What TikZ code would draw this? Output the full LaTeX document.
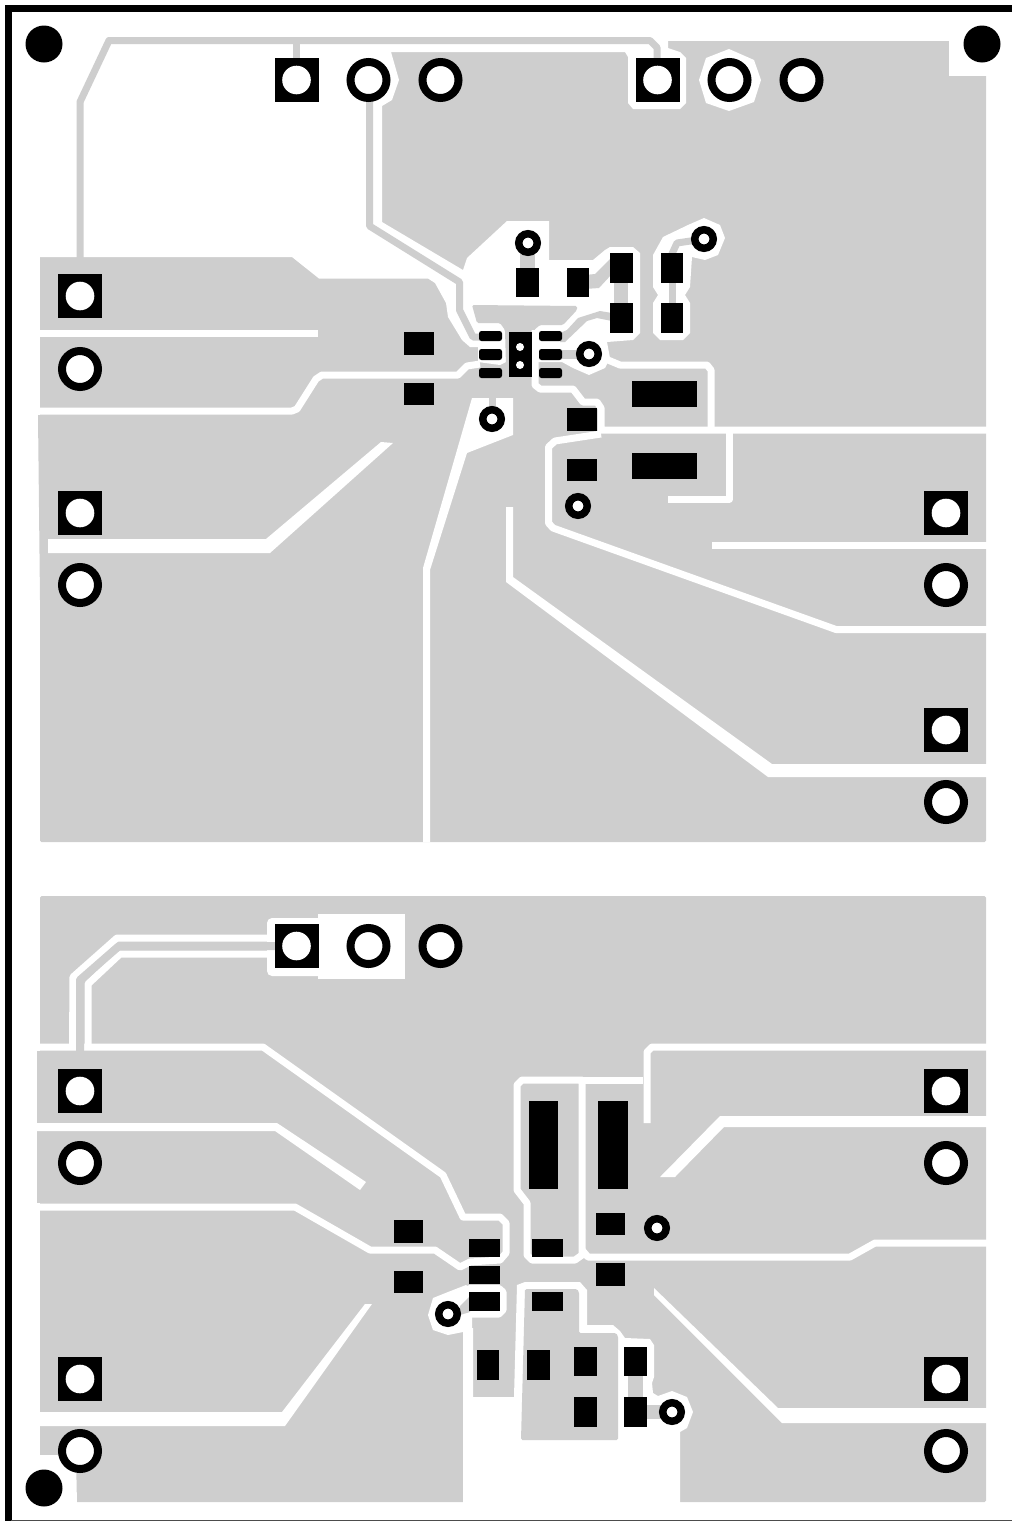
\documentclass[tikz,border=0pt]{standalone}
\usepackage{tikz}
\usepackage{xcolor}
\definecolor{coppercolor}{RGB}{206, 206, 206}
\tikzstyle{pour} = [
	fill=coppercolor,
	rounded corners=1.5pt
]
\tikzstyle{clear} = [
	fill=white
]
\tikzstyle{gap} = [
	draw=white,
	line width=7pt,
	line join=round
]
\tikzstyle{trace} = [
	draw=coppercolor,
	line width=7pt,
	line join=round
]
\tikzstyle{smd} = [
	fill=black
]
\tikzstyle{thsq} = [
	fill=black,
	inner sep=0pt,
	minimum size=44pt,
	path picture={\fill[white] (path picture bounding box.center) circle (14.3pt);}
]
\tikzstyle{thring} = [
	circle,
	draw=black,
	fill=white,
	line width=8pt,
	inner sep=0pt,
	minimum size=36pt
]
\tikzstyle{via} = [
	circle,
	draw=black,
	fill=white,
	line width=7.5pt,
	inner sep=0pt,
	minimum size=18.5pt
]
\tikzstyle{drill} = [
	circle,
	fill=black,
	inner sep=0pt,
	minimum size=37pt
]

\begin{document}
\begin{tikzpicture}[x=1pt,y=-1pt]
	\useasboundingbox (0,0) rectangle (1012,1521);
	
	%
	% Board edge
	\fill[black] (4.5,4.5) rectangle (1012,11.5);
	\fill[black] (4.5,4.5) rectangle (11.5,1521);
	\fill[black!70] (11,1520) rectangle (1012,1521);
	
	%
	% Upper circuit, copper
	\fill[pour] (40,41) rectangle (986,842);
	\fill[coppercolor] (38,415) -- (41,415) -- (41,600) -- (40,600) -- cycle;
	\fill[clear] (949,38) rectangle (990,76);
	\fill[clear] (38,38) -- (668,38) -- (668,48) -- (680,52) -- (686,58) -- (686,103) -- (680,109) -- (633,109) -- (628,103) -- (628,57) -- (625,52) -- (391,52) -- (399,80) -- (392,100) -- (382,106) -- (382,222) -- (463,270) -- (467,258) -- (507,221) -- (549,221) -- (549,260) -- (593,260) -- (605,250) -- (610,247) -- (633,247) -- (640,253) -- (640,333) -- (633,340) -- (607,342) -- (610,358) -- (605,368) -- (589,375) -- (573,368) -- (562,362) -- (506,362) -- (500,365) -- (478,362) -- (478,347) -- (470,347) -- (462,340) -- (448,317) -- (446,303) -- (435,283) -- (428,278.5) -- (319,278.5) -- (292,257) -- (38,257) -- cycle;
	\fill[pour] (472,305) -- (577,306) -- (577,310) -- (563,325) -- (540,325) -- (534,330) -- (534,366) -- (506,366) -- (505,330) -- (500,323) -- (477,323) -- cycle;
	\fill[clear] (729,49) -- (754,60) -- (761,80) -- (754,102) -- (729,111) -- (706,103) -- (699,80) -- (706,58) -- cycle;
	\fill[clear] (704,218) -- (720,225) -- (725,238) -- (718,255) -- (705,260) -- (692,257) -- (690,287) -- (685,295) -- (690,303) -- (690,333) -- (683,340) -- (660,340) -- (653,333) -- (653,303) -- (658,295) -- (653,287) -- (653,255) -- (663,237) -- (688,225) -- cycle;
	\fill[clear] (472,398) -- (513,398) -- (513,435) -- (467,453) -- (430,570) -- (430,842) -- (423,842) -- (423,568) -- cycle;
	\fill[clear] (48,539) -- (266,539) -- (381,442) -- (393,443) -- (270,553) -- (48,553) -- cycle;
	\fill[clear] (506,507) -- (513,507) -- (513,577) -- (772,764) -- (990,764) -- (990,777) -- (768,777) -- (506,582) -- cycle;
	\draw[gap] (36,333) -- (318,333);
	\draw[gap] (36,411) -- (292,411) -- (297,409) -- (316,379) -- (322,375) -- (458,375) -- (467,366) -- (480,364);
	\draw[gap] (608,360) -- (620,365) -- (707,365) -- (711,370) -- (711,430);
	\draw[gap] (535,330) -- (535,385) -- (540,389) -- (573,389) -- (583,402) -- (597,402) -- (601,408) -- (601,430) -- (990,430);
	\draw[gap] (601,434) -- (555,441) -- (548.5,447) -- (548.5,523) -- (553,528) -- (836,629.5) -- (990,629.5);
	\draw[gap] (729.5,430) -- (729.5,499) -- (668,499);
	\draw[gap] (712,545.5) -- (990,545.5);
	
	%
	% Upper circuit, traces
	\draw[trace] (80,262) -- (80,102) -- (109,40.5) -- (650,40.5) -- (657,47.5) -- (657,60);
	\draw[trace] (296,44) -- (296,60);
	\draw[trace] (369.5,100) -- (369.5,226) -- (459.5,282) -- (459.5,310) -- (473,337) -- (482,337);
	\draw[trace] (492,398) -- (492,412);
	\draw[trace, line width=15pt] (527.5,243) -- (527.5,270);
	\draw[trace, line width=14pt] (621,280) -- (621,306);
	\draw[trace] (672,280) -- (672,306);
	\draw[trace] (704,239) -- (677,243) -- (671,256);
	\draw[trace, line width=9pt] (562,354.5) -- (585,354.5);
	\fill[coppercolor] (585,275) -- (595,274) -- (611,258) -- (611,275) -- (599,288) -- (585,289) -- cycle;
	\fill[coppercolor] (560,333) -- (567,330) -- (578,318) -- (600,311) -- (612,313) -- (612,321) -- (597,318) -- (587,321) -- (565,342) -- (560,342) -- cycle;
	
	%
	% Upper circuit, parts
	\fill[smd] (404,332) rectangle (434,355);
	\fill[smd] (404,383) rectangle (434,405);
	\fill[smd] (516,268) rectangle (539,297);
	\fill[smd] (567,268) rectangle (589,297);
	\fill[smd] (610,253) rectangle (633,283);
	\fill[smd] (661,253) rectangle (683,283);
	\fill[smd] (610,303) rectangle (633,333);
	\fill[smd] (661,303) rectangle (683,333);
	\fill[smd] (567,408) rectangle (597,431);
	\fill[smd] (567,459) rectangle (597,481);
	\fill[smd] (632,381) rectangle (697,407);
	\fill[smd] (632,453) rectangle (697,479);
	\fill[smd, rounded corners=2.5pt] (479,331) rectangle (502,341);
	\fill[smd, rounded corners=2.5pt] (479,349) rectangle (502,360);
	\fill[smd, rounded corners=2.5pt] (479,368) rectangle (502,378);
	\fill[smd, rounded corners=2.5pt] (539,331) rectangle (562,341);
	\fill[smd, rounded corners=2.5pt] (539,349) rectangle (562,360);
	\fill[smd, rounded corners=2.5pt] (539,368) rectangle (562,378);
	\fill[smd] (509,332) rectangle (532,377);
	\fill[white] (520,347) circle (4pt);
	\fill[white] (520,365) circle (4pt);
	\node[via] (v1) at (528,243) {};
	\node[via] (v2) at (589,354) {};
	\node[via] (v3) at (492,419) {};
	\node[via] (v4) at (578,506) {};
	\node[via] (v5) at (704,239) {};
	\node[thsq] (j1a) at (296.5,80) {};
	\node[thring] (j1b) at (368.5,80) {};
	\node[thring] (j1c) at (440.5,80) {};
	\node[thsq] (j2a) at (657.5,80) {};
	\node[thring] (j2b) at (729.5,80) {};
	\node[thring] (j2c) at (801.5,80) {};
	\node[thsq] (j3a) at (80,296) {};
	\node[thring] (j3b) at (80,369) {};
	\node[thsq] (j4a) at (80,513) {};
	\node[thring] (j4b) at (80,585) {};
	\node[thsq] (j5a) at (946,513) {};
	\node[thring] (j5b) at (946,585) {};
	\node[thsq] (j6a) at (946,730) {};
	\node[thring] (j6b) at (946,802) {};
	
	%
	% Lower circuit, copper
	\fill[pour] (40,896) rectangle (986,1502);
	\fill[coppercolor] (37,1051) rectangle (41,1203);
	\fill[clear, rounded corners=5pt] (267,918) rectangle (330,976);
	\fill[clear] (318,914) rectangle (405,979);
	\draw[gap] (270,938) -- (117,938) -- (73,977) -- (72.5,1047);
	\draw[gap] (270,954) -- (120,954) -- (88,984) -- (88,1047);
	\draw[gap] (36,1207) -- (295,1207) -- (370,1250) -- (435,1250) -- (460,1267) -- (470,1262) -- (500,1260) -- (506,1253) -- (506,1223) -- (500,1217) -- (463,1217) -- (443,1175) -- (263,1047) -- (36,1047);
	\fill[clear] (36,1123) -- (277,1123) -- (366,1182) -- (360,1190) -- (275,1131) -- (36,1131) -- cycle;
	\draw[gap] (582,1080) -- (522,1080) -- (517,1085) -- (517,1190) -- (527,1203) -- (527,1255) -- (532,1260) -- (575,1260) -- (582,1255) -- (582,1085) -- cycle;
	\draw[gap] (582,1080) -- (643,1080);
	\draw[gap] (647,1123) -- (647,1052) -- (652,1047) -- (990,1047);
	\draw[gap] (582,1250) -- (588,1257) -- (850,1257) -- (875,1243) -- (990,1243);
	\fill[clear] (990,1116) -- (720,1116) -- (660,1177) -- (675,1177) -- (724,1127) -- (990,1127) -- cycle;
	\fill[clear] (654,1288) -- (778,1408) -- (990,1408) -- (990,1423) -- (782,1423) -- (654,1295) -- cycle;
	\fill[clear] (36,1412) -- (282,1412) -- (365,1304) -- (372,1304) -- (285,1426) -- (36,1426) -- cycle;
	\fill[clear] (36,1455) -- (76,1455) -- (77,1505) -- (36,1505) -- cycle;
	\fill[clear] (463,1328) -- (473,1328) -- (473,1397) -- (514,1397) -- (517,1285) -- (525,1282) -- (580,1282) -- (587,1290) -- (587,1325) -- (613,1325) -- (620,1331) -- (625,1338) -- (650,1339) -- (654,1345) -- (654,1377) -- (652,1383) -- (653,1393) -- (658,1396) -- (672,1391) -- (687,1397) -- (693,1412) -- (687,1428) -- (680,1432) -- (680,1505) -- (463,1505) -- cycle;
	\fill[pour] (525,1289) -- (577,1289) -- (579,1292) -- (579,1333) -- (616,1333) -- (618,1336) -- (618,1440) -- (521,1440) -- cycle;
	\draw[gap] (462,1292) -- (470,1288.5) -- (499,1288.5) -- (503,1292) -- (503,1310) -- (499,1314) -- (470,1314) -- (463,1320);
	\fill[clear] (428,1315) -- (433,1298) -- (448,1292) -- (466,1285) -- (472,1290) -- (472,1328) -- (463,1332) -- (448,1335) -- (433,1330) -- cycle;
	
	%
	% Lower circuit, traces
	\draw[trace, line width=8pt] (80,1056) -- (80,980) -- (119,946) -- (280,946);
	\draw[trace, line width=15pt] (635.5,1372) -- (635.5,1402);
	\draw[trace, line width=14pt] (640,1412) -- (665,1412);
	\fill[coppercolor] (460,1306) -- (470,1296) -- (470,1312) -- (460,1315) -- cycle;
	
	%
	% Lower circuit, parts
	\fill[smd] (394,1220) rectangle (423,1243);
	\fill[smd] (394,1271) rectangle (423,1293);
	\fill[smd] (469,1239) rectangle (500,1257);
	\fill[smd] (469,1266) rectangle (500,1284);
	\fill[smd] (469,1292) rectangle (500,1311);
	\fill[smd] (532,1239) rectangle (563,1257);
	\fill[smd] (532,1292) rectangle (563,1311);
	\fill[smd] (529,1101) rectangle (558,1189);
	\fill[smd] (598,1101) rectangle (628,1189);
	\fill[smd] (596,1213) rectangle (625,1235);
	\fill[smd] (596,1263) rectangle (625,1286);
	\fill[smd] (477,1350) rectangle (499,1380);
	\fill[smd] (527,1350) rectangle (550,1380);
	\fill[smd] (574,1347) rectangle (597,1376);
	\fill[smd] (624,1347) rectangle (647,1376);
	\fill[smd] (574,1397) rectangle (597,1427);
	\fill[smd] (624,1397) rectangle (647,1427);
	\node[via] (v6) at (657,1228) {};
	\node[via] (v7) at (448,1314) {};
	\node[via] (v8) at (672,1412) {};
	\node[thsq] (j7a) at (296.5,946) {};
	\node[thring] (j7b) at (368.5,946) {};
	\node[thring] (j7c) at (440.5,946) {};
	\node[thsq] (j8a) at (80,1091) {};
	\node[thring] (j8b) at (80,1163) {};
	\node[thsq] (j9a) at (80,1379) {};
	\node[thring] (j9b) at (80,1451) {};
	\node[thsq] (j10a) at (946,1091) {};
	\node[thring] (j10b) at (946,1163) {};
	\node[thsq] (j11a) at (946,1379) {};
	\node[thring] (j11b) at (946,1451) {};
	
	%
	% Mounting holes
	\node[drill] (h1) at (44,44) {};
	\node[drill] (h2) at (982,44) {};
	\node[drill] (h3) at (44,1488) {};
	
\end{tikzpicture}
\end{document}
